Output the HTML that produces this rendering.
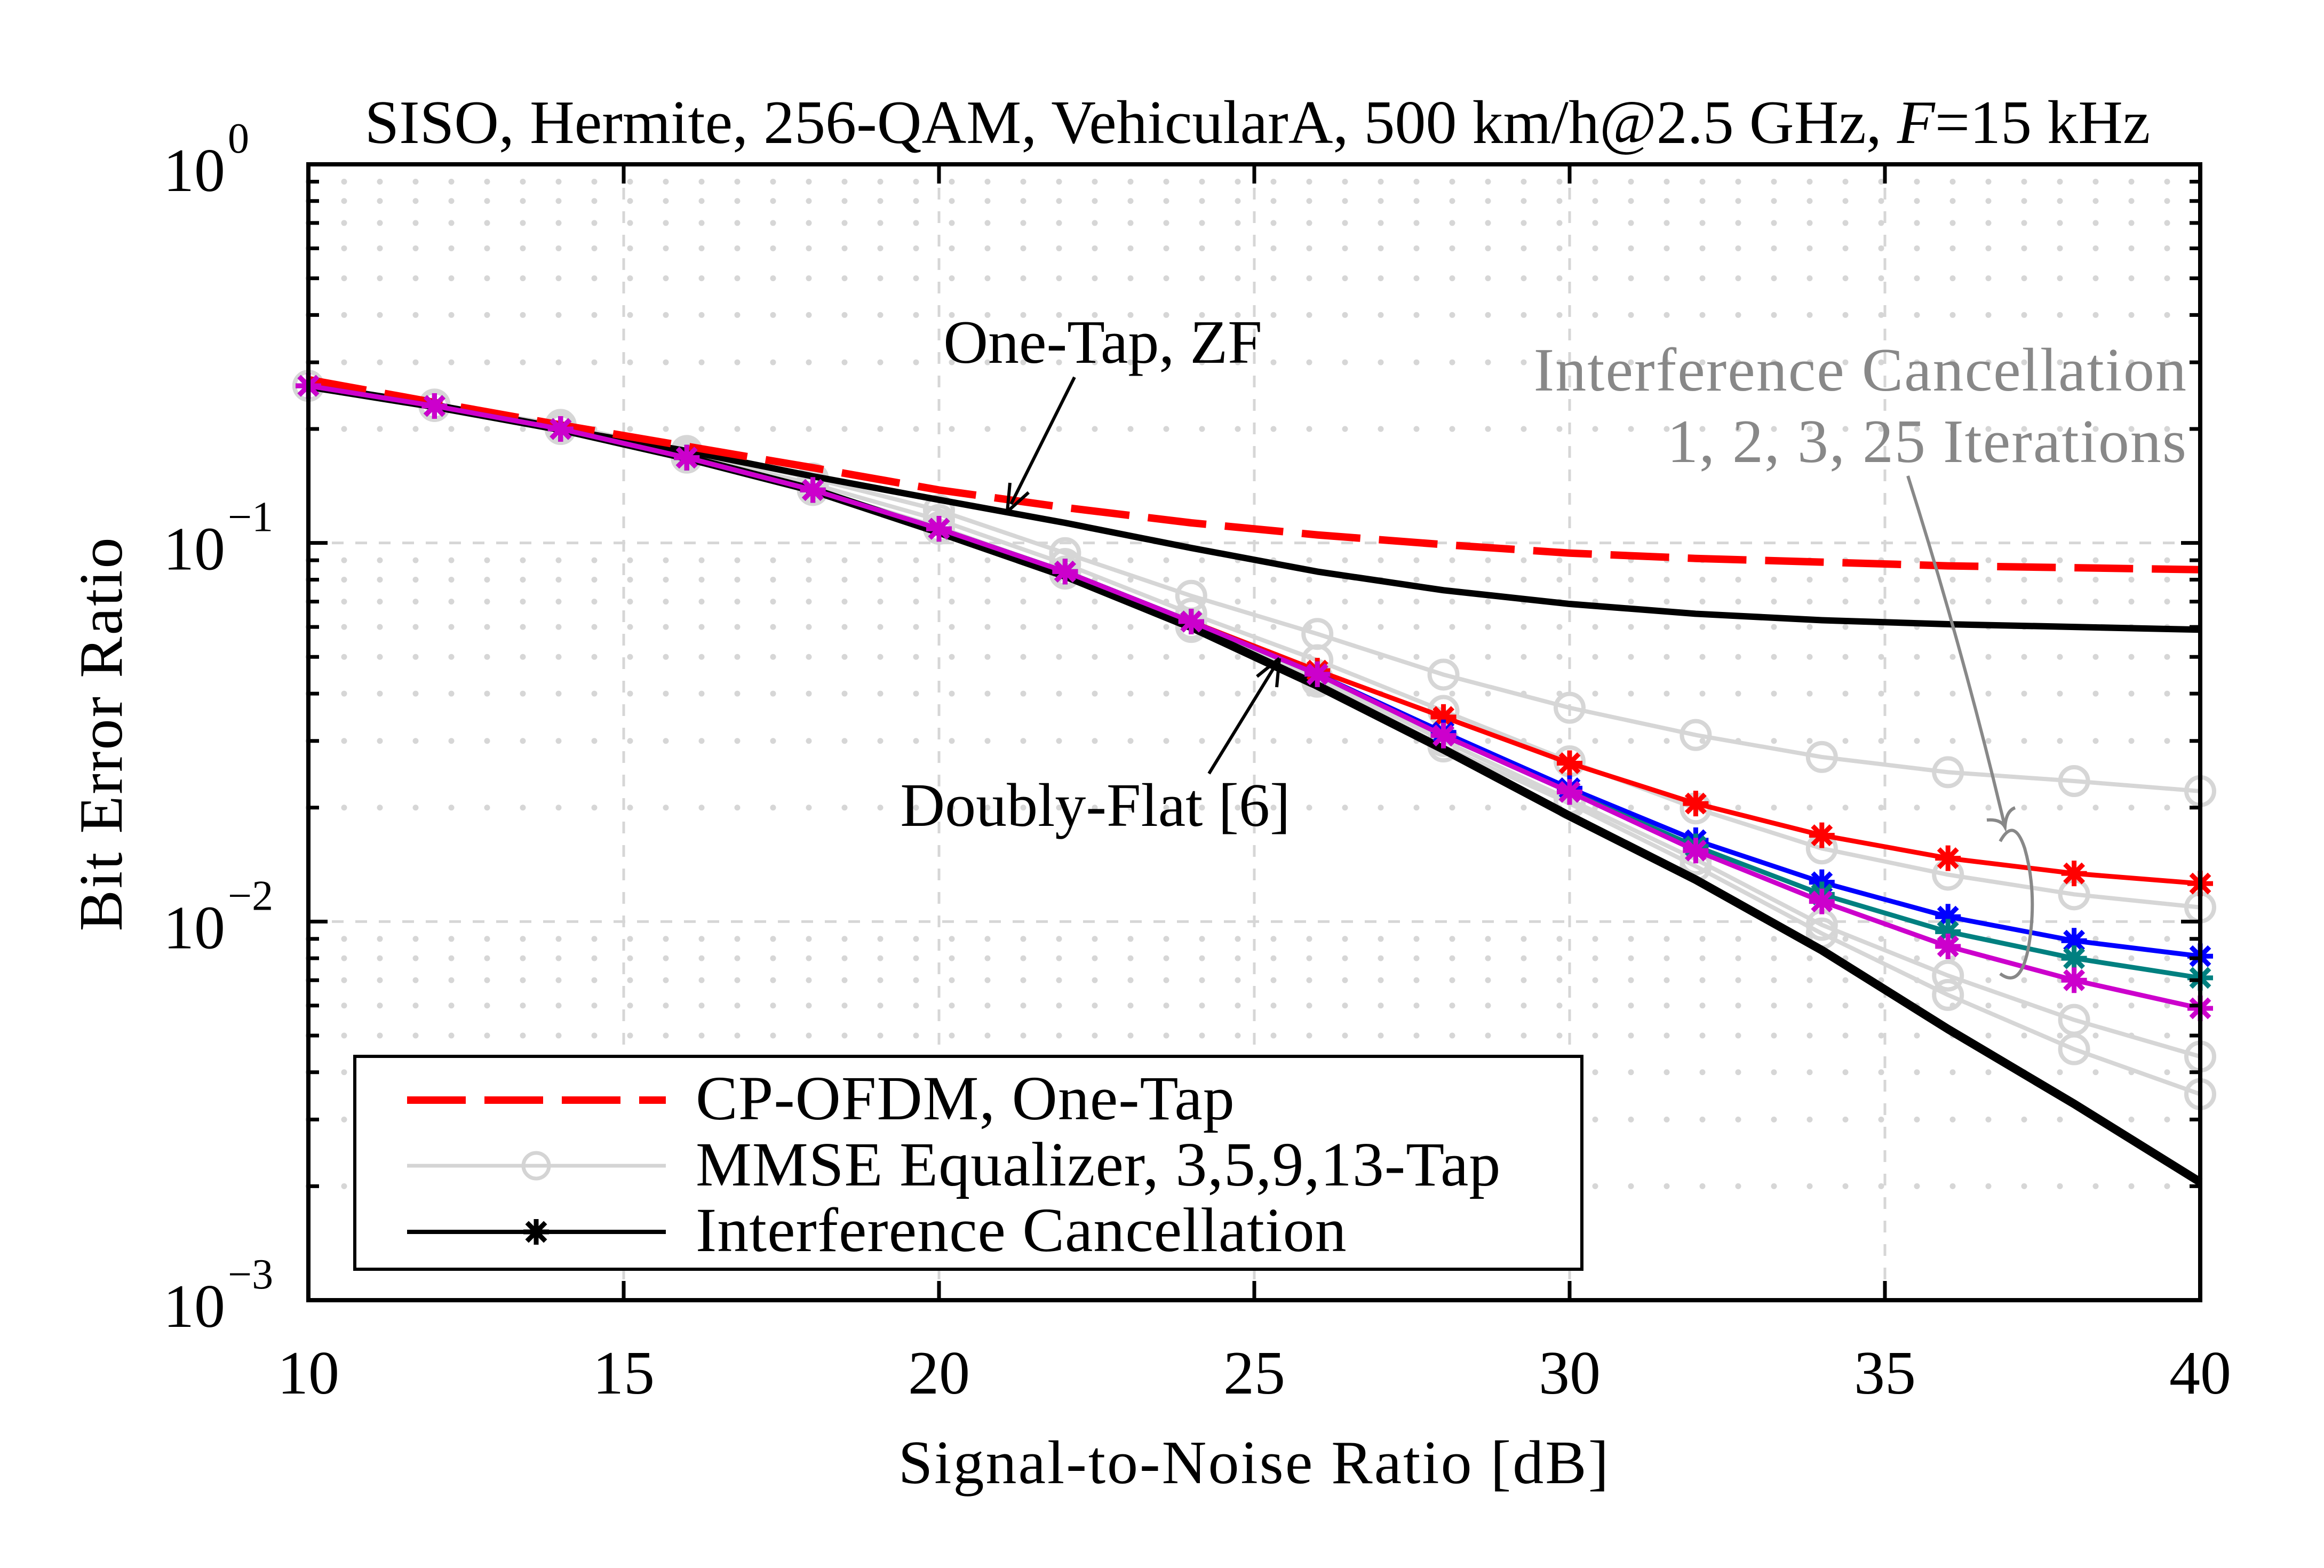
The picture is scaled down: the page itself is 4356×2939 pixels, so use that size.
<!DOCTYPE html>
<html><head><meta charset="utf-8"><style>
html,body{margin:0;padding:0;background:#fff;}
svg{display:block;font-family:"Liberation Serif",serif;}
</style></head><body>
<svg id="chart" width="4356" height="2939" viewBox="0 0 4356 2939" xmlns="http://www.w3.org/2000/svg">
<rect width="4356" height="2939" fill="#fff"/>
<g id="grid"></g>
<g id="series"></g>
<g id="axes"></g>
<text x="2357" y="268" font-size="116" text-anchor="middle">SISO, Hermite, 256-QAM, VehicularA, 500 km/h@2.5 GHz, <tspan font-style="italic">F</tspan>=15 kHz</text>
<text x="2351" y="2780" font-size="116" letter-spacing="3" text-anchor="middle">Signal-to-Noise Ratio [dB]</text>
<text transform="translate(228,1375) rotate(-90)" font-size="116" letter-spacing="3" text-anchor="middle">Bit Error Ratio</text>

<g>
<text x="2067" y="680" font-size="116" text-anchor="middle">One-Tap, ZF</text>
<line x1="2014" y1="707" x2="1895" y2="945" stroke="#000" stroke-width="6"/>
<path d="M1888 959 L1893 905 M1888 959 L1928 923" stroke="#000" stroke-width="6" fill="none"/>
</g>
<g>
<text x="2053" y="1548" font-size="116" text-anchor="middle">Doubly-Flat [6]</text>
<line x1="2266" y1="1450" x2="2390" y2="1248" stroke="#000" stroke-width="6"/>
<path d="M2398 1234 L2356 1268 M2398 1234 L2393 1288" stroke="#000" stroke-width="6" fill="none"/>
</g>
<g fill="#888">
<text x="4100" y="732" font-size="116" letter-spacing="2" text-anchor="end">Interference Cancellation</text>
<text x="4100" y="866" font-size="116" letter-spacing="2" text-anchor="end">1, 2, 3, 25 Iterations</text>
<path d="M3576 892 Q3680 1220 3758 1550" stroke="#888" stroke-width="6" fill="none"/>
<path d="M3724 1537 Q3750 1535 3758 1550 Q3760 1520 3777 1514" stroke="#888" stroke-width="6" fill="none"/>
<path d="M3749 1577 Q3775 1530 3795 1590 Q3815 1660 3807 1740 Q3795 1860 3749 1825" stroke="#888" stroke-width="6" fill="none"/>
</g>

<g>
<rect x="665" y="1980" width="2300" height="399" fill="#fff" stroke="#000" stroke-width="6"/>
<line x1="763" y1="2062" x2="1248" y2="2062" stroke="#ff0000" stroke-width="14" stroke-dasharray="110 35"/>
<text x="1304" y="2098" font-size="118" letter-spacing="1">CP-OFDM, One-Tap</text>
<line x1="763" y1="2185" x2="1248" y2="2185" stroke="#d4d4d4" stroke-width="7"/>
<circle cx="1005" cy="2185" r="24" fill="none" stroke="#d4d4d4" stroke-width="7"/>
<text x="1304" y="2222" font-size="118" letter-spacing="1">MMSE Equalizer, 3,5,9,13-Tap</text>
<line x1="763" y1="2309" x2="1248" y2="2309" stroke="#000" stroke-width="8"/>
<g id="legmark"></g>
<text x="1304" y="2345" font-size="118" letter-spacing="1">Interference Cancellation</text>
</g>
</svg>
<script>
const snr = [10,12,14,16,18,20,22,24,26,28,30,32,34,36,38,40];
const cpOfdm = [0.27,0.235,0.205,0.18,0.158,0.138,0.124,0.113,0.105,0.099,0.094,0.091,0.089,0.087,0.086,0.085];
const oneTapZF = [0.26,0.23,0.2,0.175,0.15,0.13,0.113,0.097,0.084,0.075,0.069,0.065,0.0625,0.061,0.060,0.059];
const doublyFlat = [0.26,0.23,0.2,0.168,0.138,0.107,0.082,0.06,0.042,0.0285,0.019,0.0129,0.0084,0.0052,0.0033,0.00205];
const mmse3 = [0.26,0.232,0.205,0.175,0.148,0.122,0.094,0.0725,0.0575,0.0449,0.0367,0.0311,0.0272,0.0248,0.0235,0.0221];
const mmse5 = [0.26,0.231,0.203,0.172,0.143,0.115,0.088,0.065,0.049,0.036,0.0265,0.0199,0.0156,0.0133,0.0118,0.0109];
const mmse9 = [0.26,0.23,0.2,0.169,0.139,0.11,0.084,0.061,0.044,0.030,0.021,0.0146,0.0098,0.0072,0.0055,0.0044];
const mmse13 = [0.26,0.23,0.2,0.168,0.138,0.109,0.083,0.06,0.043,0.029,0.0205,0.014,0.0093,0.0064,0.0046,0.0035];
const ic1 = [0.26,0.23,0.2,0.168,0.138,0.109,0.084,0.062,0.046,0.0347,0.0262,0.0205,0.0169,0.0147,0.0134,0.0126];
const ic2 = [0.26,0.23,0.2,0.168,0.138,0.109,0.084,0.062,0.045,0.0316,0.0225,0.0164,0.0127,0.0103,0.0089,0.0081];
const ic3 = [0.26,0.23,0.2,0.168,0.138,0.109,0.084,0.062,0.045,0.031,0.022,0.0158,0.0118,0.0094,0.008,0.0071];
const ic25 = [0.26,0.23,0.2,0.168,0.138,0.109,0.084,0.062,0.045,0.031,0.022,0.0154,0.0113,0.0086,0.0070,0.0059];
const xTicks = [10,15,20,25,30,35,40];
const yTickExps = [0,-1,-2,-3];

const L=578,R=4124,T=308,B=2437;
const NS='http://www.w3.org/2000/svg';
function X(v){return L+(v-10)/30*(R-L);}
function Y(v){return T+(-Math.log10(v))/3*(B-T);}
function mk(tag,attrs,parent){const e=document.createElementNS(NS,tag);for(const k in attrs)e.setAttribute(k,attrs[k]);parent.appendChild(e);return e;}
const grid=document.getElementById('grid'),axes=document.getElementById('axes'),ser=document.getElementById('series');

for(const v of xTicks){ if(v===10||v===40) continue;
  const g=mk('line',{x1:X(v),x2:X(v),y1:T,y2:B,stroke:'#d6d6d6','stroke-width':5,'stroke-dasharray':'22 22'},grid);
  
  
}
for(let d=0;d<3;d++){
  for(let m=2;m<=9;m++){
    const v=Math.pow(10,-d-1)*m;
    const g=mk('line',{x1:L,x2:R,y1:Y(v),y2:Y(v),stroke:'#d6d6d6','stroke-width':11,'stroke-linecap':'round','stroke-dasharray':'0 67'},grid);
    
    
    for(const x0 of [L,R]){
      const sgn = x0===L?1:-1;
      mk('line',{x1:x0,x2:x0+sgn*20,y1:Y(v),y2:Y(v),stroke:'#000','stroke-width':7},axes);
    }
  }
  if(d>0){const v=Math.pow(10,-d);
    const g=mk('line',{x1:L,x2:R,y1:Y(v),y2:Y(v),stroke:'#d6d6d6','stroke-width':5,'stroke-dasharray':'22 22'},grid);
    
    
  }
}
const box=mk('rect',{x:L,y:T,width:R-L,height:B-T,fill:'none',stroke:'#000','stroke-width':8},axes);


for(const v of xTicks){
  mk('line',{x1:X(v),x2:X(v),y1:B,y2:B-36,stroke:'#000','stroke-width':7},axes);
  mk('line',{x1:X(v),x2:X(v),y1:T,y2:T+36,stroke:'#000','stroke-width':7},axes);
  const t=mk('text',{x:X(v),y:2612,'font-size':116,'text-anchor':'middle'},axes);
  t.textContent=v;
  
  
}
for(const e of yTickExps){
  const y=Y(Math.pow(10,e));
  mk('line',{x1:L,x2:L+36,y1:y,y2:y,stroke:'#000','stroke-width':7},axes);
  mk('line',{x1:R,x2:R-36,y1:y,y2:y,stroke:'#000','stroke-width':7},axes);
  const t=mk('text',{x:422,y:y+50,'font-size':116,'text-anchor':'end'},axes);
  t.textContent='10';
  
  
  const s=mk('text',{x:427,y:y-22,'font-size':80,'text-anchor':'start'},axes);
  s.textContent=e===0?'0':'\u2212'+(-e);
  
  
}
function pts(arr){return arr.map((v,i)=>X(snr[i])+','+Y(v)).join(' ');}
function line(arr,color,w,name,dash){
  const p=mk('polyline',{points:pts(arr),fill:'none',stroke:color,'stroke-width':w,'stroke-linejoin':'round'},ser);
  if(dash)p.setAttribute('stroke-dasharray',dash);
  
  
}
function star(cx,cy,color,parent){
  const r=24,d=r*0.72;
  const g=mk('path',{d:`M${cx} ${cy-r}V${cy+r}M${cx-r} ${cy}H${cx+r}M${cx-d} ${cy-d}L${cx+d} ${cy+d}M${cx-d} ${cy+d}L${cx+d} ${cy-d}`,stroke:color,'stroke-width':9,fill:'none'},parent);
  
  
}
function circles(arr){arr.forEach((v,i)=>{
  const c=mk('circle',{cx:X(snr[i]),cy:Y(v),r:26,fill:'none',stroke:'#d6d6d6','stroke-width':8},ser);
  
  
});}
for(const [a,n] of [[mmse3,'mmse-3-tap'],[mmse5,'mmse-5-tap'],[mmse9,'mmse-9-tap'],[mmse13,'mmse-13-tap']]){line(a,'#d6d6d6',8,n);circles(a);}
line(doublyFlat,'#000',16,'doubly-flat-line');
line(oneTapZF,'#000',12,'one-tap-zf-line');
line(cpOfdm,'#ff0000',14,'cp-ofdm-line','110 35');
for(const [a,c,n] of [[ic1,'#ff0000','ic-1-iteration'],[ic2,'#0000ff','ic-2-iterations'],[ic3,'#008080','ic-3-iterations'],[ic25,'#cc00cc','ic-25-iterations']]){
  line(a,c,9,n);
  a.forEach((v,i)=>star(X(snr[i]),Y(v),c,ser));
}
star(1005,2309,'#000',document.getElementById('legmark'));
</script>
</body></html>
